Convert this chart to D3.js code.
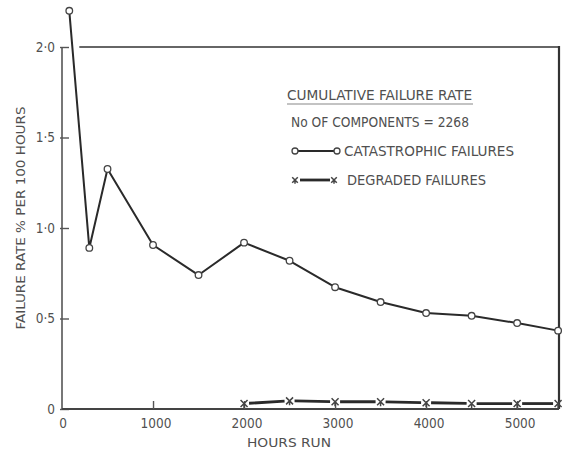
<!DOCTYPE html>
<html><head><meta charset="utf-8">
<script src="https://cdn.jsdelivr.net/npm/d3@7"></script>
<style>
html,body{margin:0;padding:0;background:#fff;}
svg text{font-family:"DejaVu Sans Condensed","DejaVu Sans",sans-serif;fill:#505050;}
</style></head>
<body><svg id="c" width="562" height="450"></svg>
<script>
const hours = [80, 300, 500, 1000, 1500, 2000, 2500, 3000, 3500, 4000, 4500, 5000, 5450];
const catastrophic = [2.20, 0.89, 1.326, 0.906, 0.74, 0.919, 0.819, 0.673, 0.591, 0.53, 0.515, 0.475, 0.433];
const degradedHours = [2000, 2500, 3000, 3500, 4000, 4500, 5000, 5450];
const degraded = [0.03, 0.045, 0.04, 0.04, 0.035, 0.03, 0.03, 0.03];
const xTicks = [0, 1000, 2000, 3000, 4000, 5000];
const yTicks = [0, 0.5, 1.0, 1.5, 2.0];
const yTickLabels = ["0", "0·5", "1·0", "1·5", "2·0"];
const xTitle = "HOURS RUN";
const yTitle = "FAILURE RATE % PER 100 HOURS";
const legendTitle = "CUMULATIVE FAILURE RATE";
const legendSub = "No OF COMPONENTS = 2268";
const seriesNames = ["CATASTROPHIC FAILURES", "DEGRADED FAILURES"];

const svg = d3.select("#c");
const x = d3.scaleLinear().domain([0, 5460]).range([62, 559]);
const y = d3.scaleLinear().domain([0, 2]).range([409, 47]);
const ink = "#2a2a2a";

// frame: top line (gap near start) and right side
svg.append("line").attr("x1", x(190)).attr("x2", x(5460)).attr("y1", y(2)).attr("y2", y(2))
  .attr("stroke", "#333").attr("stroke-width", 1.6);
svg.append("line").attr("x1", x(5460)).attr("x2", x(5460)).attr("y1", y(2) - 1).attr("y2", y(0))
  .attr("stroke", "#333").attr("stroke-width", 2.2);

// y axis
const yAxis = d3.axisRight(y).tickValues(yTicks).tickSize(7).tickFormat("");
const gy = svg.append("g").attr("transform", `translate(${x(0)},0)`).call(yAxis);
gy.select(".domain").attr("stroke", "#555").attr("stroke-width", 1.6).attr("d", `M0,${y(2)}V${y(0)}`);
gy.selectAll(".tick line").attr("stroke", "#555").attr("stroke-width", 1.4).attr("x1", -2);
yTicks.forEach((v, i) => {
  svg.append("text").attr("x", 55).attr("y", y(v)).attr("dy", "0.36em")
    .attr("text-anchor", "end").attr("font-size", 13.5).text(yTickLabels[i]);
});

// x axis
const xAxis = d3.axisTop(x).tickValues(xTicks.filter(d => d > 0)).tickSize(8).tickFormat("");
const gx = svg.append("g").attr("transform", `translate(0,${y(0)})`).call(xAxis);
gx.select(".domain").attr("stroke", "#444").attr("stroke-width", 1.8).attr("d", `M${x(0)},0H${x(5460)}`);
gx.selectAll(".tick line").attr("stroke", "#555").attr("stroke-width", 1.4);
xTicks.forEach(v => {
  svg.append("text").attr("x", x(v) + (v === 0 ? 1 : 3)).attr("y", 423).attr("dy", "0.36em")
    .attr("text-anchor", "middle").attr("font-size", 13.5).text(v);
});

// titles
svg.append("text").attr("x", 289).attr("y", 442).attr("dy", "0.36em").attr("text-anchor", "middle")
  .attr("font-size", 13).attr("textLength", 84).attr("lengthAdjust", "spacingAndGlyphs").text(xTitle);
svg.append("text").attr("transform", "translate(20,218) rotate(-90)").attr("dy", "0.36em")
  .attr("text-anchor", "middle").attr("font-size", 13).attr("textLength", 223)
  .attr("lengthAdjust", "spacingAndGlyphs").text(yTitle);

// catastrophic series
const catData = hours.map((h, i) => [h, catastrophic[i]]);
const line = d3.line().x(d => x(d[0])).y(d => y(d[1]));
svg.append("path").datum(catData).attr("d", line).attr("fill", "none")
  .attr("stroke", ink).attr("stroke-width", 2).attr("stroke-linejoin", "round");
svg.selectAll("circle.cat").data(catData).enter().append("circle").attr("class", "cat")
  .attr("cx", d => x(d[0])).attr("cy", d => y(d[1])).attr("r", 3.3)
  .attr("fill", "#fff").attr("stroke", "#444").attr("stroke-width", 1.3);

// degraded series: thick segments with gaps at the marks
const degData = degradedHours.map((h, i) => [h, degraded[i]]);
const gap = 5;
d3.pairs(degData).forEach(([a, b]) => {
  const x1 = x(a[0]), y1 = y(a[1]), x2 = x(b[0]), y2 = y(b[1]);
  const len = Math.hypot(x2 - x1, y2 - y1), ux = (x2 - x1) / len, uy = (y2 - y1) / len;
  svg.append("line").attr("x1", x1 + ux * gap).attr("y1", y1 + uy * gap)
    .attr("x2", x2 - ux * gap).attr("y2", y2 - uy * gap)
    .attr("stroke", ink).attr("stroke-width", 2.8);
});
function cross(g, cx, cy, s) {
  g.append("path").attr("d", `M${cx - s},${cy - s}L${cx + s},${cy + s}M${cx - s},${cy + s}L${cx + s},${cy - s}M${cx},${cy}V${cy + s + 1}`)
    .attr("stroke", "#444").attr("stroke-width", 1.5).attr("fill", "none");
}
degData.forEach(d => cross(svg, x(d[0]), y(d[1]), 3.5));

// legend
svg.append("text").attr("x", 287).attr("y", 95).attr("dy", "0.36em").attr("font-size", 13.5)
  .attr("textLength", 185).attr("lengthAdjust", "spacingAndGlyphs").text(legendTitle);
svg.append("line").attr("x1", 287).attr("x2", 473).attr("y1", 104).attr("y2", 104)
  .attr("stroke", "#888").attr("stroke-width", 1.2);
svg.append("text").attr("x", 291).attr("y", 122).attr("dy", "0.36em").attr("font-size", 13.5)
  .attr("textLength", 178).attr("lengthAdjust", "spacingAndGlyphs").text(legendSub);
svg.append("line").attr("x1", 295).attr("x2", 337).attr("y1", 151).attr("y2", 151)
  .attr("stroke", ink).attr("stroke-width", 2);
[295, 337].forEach(cx => svg.append("circle").attr("cx", cx).attr("cy", 151).attr("r", 3)
  .attr("fill", "#fff").attr("stroke", "#444").attr("stroke-width", 1.3));
svg.append("text").attr("x", 344).attr("y", 151).attr("dy", "0.36em").attr("font-size", 13.5)
  .attr("textLength", 170).attr("lengthAdjust", "spacingAndGlyphs").text(seriesNames[0]);
svg.append("line").attr("x1", 300).attr("x2", 330).attr("y1", 180).attr("y2", 180)
  .attr("stroke", ink).attr("stroke-width", 2.8);
[295, 334].forEach(cx => cross(svg, cx, 180, 2.8));
svg.append("text").attr("x", 347).attr("y", 180).attr("dy", "0.36em").attr("font-size", 13.5)
  .attr("textLength", 139).attr("lengthAdjust", "spacingAndGlyphs").text(seriesNames[1]);
</script></body></html>
